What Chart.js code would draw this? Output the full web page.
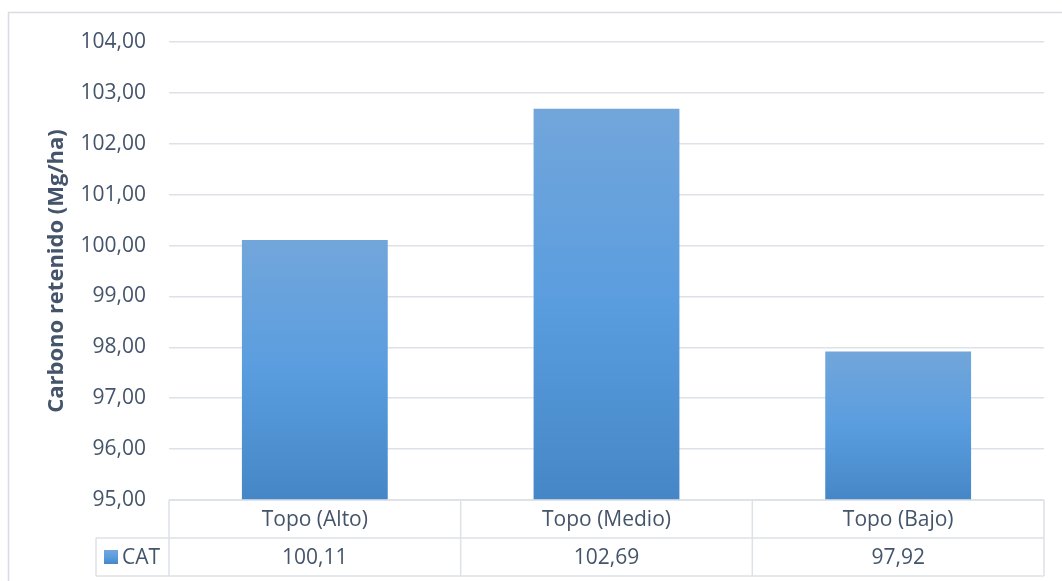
<!DOCTYPE html>
<html>
<head>
<meta charset="utf-8">
<script src="https://cdn.jsdelivr.net/npm/chart.js@4.4.1/dist/chart.umd.min.js"></script>
<style>
  html, body { margin: 0; padding: 0; background: #fff; }
  #wrap { width: 1062px; height: 581px; position: relative; }
</style>
</head>
<body>
<div id="wrap"><canvas id="chart"></canvas></div>
<script>
const categories = ['Topo (Alto)', 'Topo (Medio)', 'Topo (Bajo)'];
const seriesName = 'CAT';
const catValues = [100.11, 102.69, 97.92];
const yMin = 95;
const yMax = 104;
const axisTitle = 'Carbono retenido (Mg/ha)';

const textColor = '#44546a';
const lineColor = '#dde1e8';
const fontFamily = "'Open Sans', 'Noto Sans', sans-serif";

// 100.11 -> "100,11"
const fmt = v => v.toFixed(2).replace('.', ',');

// vertical gradient from the top of a bar down to its base
function barGradient(ctx, top, bottom) {
  const g = ctx.createLinearGradient(0, top, 0, bottom);
  g.addColorStop(0, '#72a6db');
  g.addColorStop(0.5, '#5a9ddf');
  g.addColorStop(1, '#4587c6');
  return g;
}

// light frame around the whole chart
const framePlugin = {
  id: 'frame',
  beforeDraw(chart) {
    const c = chart.ctx;
    c.save();
    c.strokeStyle = '#d9dce1';
    c.lineWidth = 1.5;
    c.strokeRect(8.5, 12.5, 1100, 700);
    c.restore();
  }
};

// data table under the plot: category row + series row
const dataTablePlugin = {
  id: 'dataTable',
  afterDraw(chart) {
    const c = chart.ctx;
    const x = chart.scales.x;
    const area = chart.chartArea;
    const colW = (area.right - area.left) / categories.length;
    const row1Top = area.bottom;
    const row2Top = row1Top + 38;
    const row2Bottom = row2Top + 38;
    const legendLeft = 96;

    c.save();
    c.strokeStyle = lineColor;
    c.lineWidth = 1.5;
    c.beginPath();
    // horizontal rules
    c.moveTo(area.left, row1Top); c.lineTo(area.right, row1Top);
    c.moveTo(legendLeft, row2Top); c.lineTo(area.right, row2Top);
    c.moveTo(legendLeft, row2Bottom); c.lineTo(area.right, row2Bottom);
    // vertical rules
    c.moveTo(legendLeft, row2Top); c.lineTo(legendLeft, row2Bottom);
    for (let i = 0; i <= categories.length; i++) {
      const xx = area.left + i * colW;
      c.moveTo(xx, row1Top); c.lineTo(xx, row2Bottom);
    }
    c.stroke();

    c.fillStyle = textColor;
    c.font = '21px ' + fontFamily;
    c.textAlign = 'center';
    c.textBaseline = 'middle';
    categories.forEach((label, i) => {
      const cx = x.getPixelForValue(i);
      c.fillText(label, cx, (row1Top + row2Top) / 2 + 1);
      c.fillText(fmt(catValues[i]), cx, (row2Top + row2Bottom) / 2 + 1);
    });

    // legend key
    const midY = (row2Top + row2Bottom) / 2;
    c.fillStyle = barGradient(c, midY - 7, midY + 7);
    c.fillRect(104, midY - 7, 14, 14);
    c.fillStyle = textColor;
    c.textAlign = 'left';
    c.fillText(seriesName, 122, midY + 1);
    c.restore();
  }
};

new Chart(document.getElementById('chart'), {
  type: 'bar',
  data: {
    labels: categories,
    datasets: [{
      label: seriesName,
      data: catValues,
      backgroundColor(ctx) {
        const chart = ctx.chart;
        const y = chart.scales.y;
        if (!y || typeof ctx.raw !== 'number') return '#5a9ddf';
        const top = y.getPixelForValue(ctx.raw);
        const base = y.getPixelForValue(yMin);
        if (!isFinite(top) || !isFinite(base) || top === base) return '#5a9ddf';
        return barGradient(chart.ctx, top, base);
      },
      borderWidth: 0,
      categoryPercentage: 1,
      barPercentage: 0.5
    }]
  },
  options: {
    responsive: true,
    maintainAspectRatio: false,
    animation: false,
    layout: { padding: { left: 0, top: 42, right: 18, bottom: 81 } },
    plugins: {
      legend: { display: false },
      tooltip: { enabled: false }
    },
    scales: {
      x: { display: false },
      y: {
        min: yMin,
        max: yMax,
        afterFit(scale) { scale.width = 169; },
        border: { display: false },
        grid: { color: lineColor, lineWidth: 1.5, drawTicks: false },
        ticks: {
          stepSize: 1,
          padding: 23,
          color: textColor,
          font: { family: fontFamily, size: 21 },
          callback: v => fmt(v)
        },
        title: {
          display: true,
          text: axisTitle,
          color: textColor,
          font: { family: fontFamily, size: 22, weight: 'bold' },
          padding: { top: 44, bottom: 0 }
        }
      }
    }
  },
  plugins: [framePlugin, dataTablePlugin]
});
</script>
</body>
</html>
